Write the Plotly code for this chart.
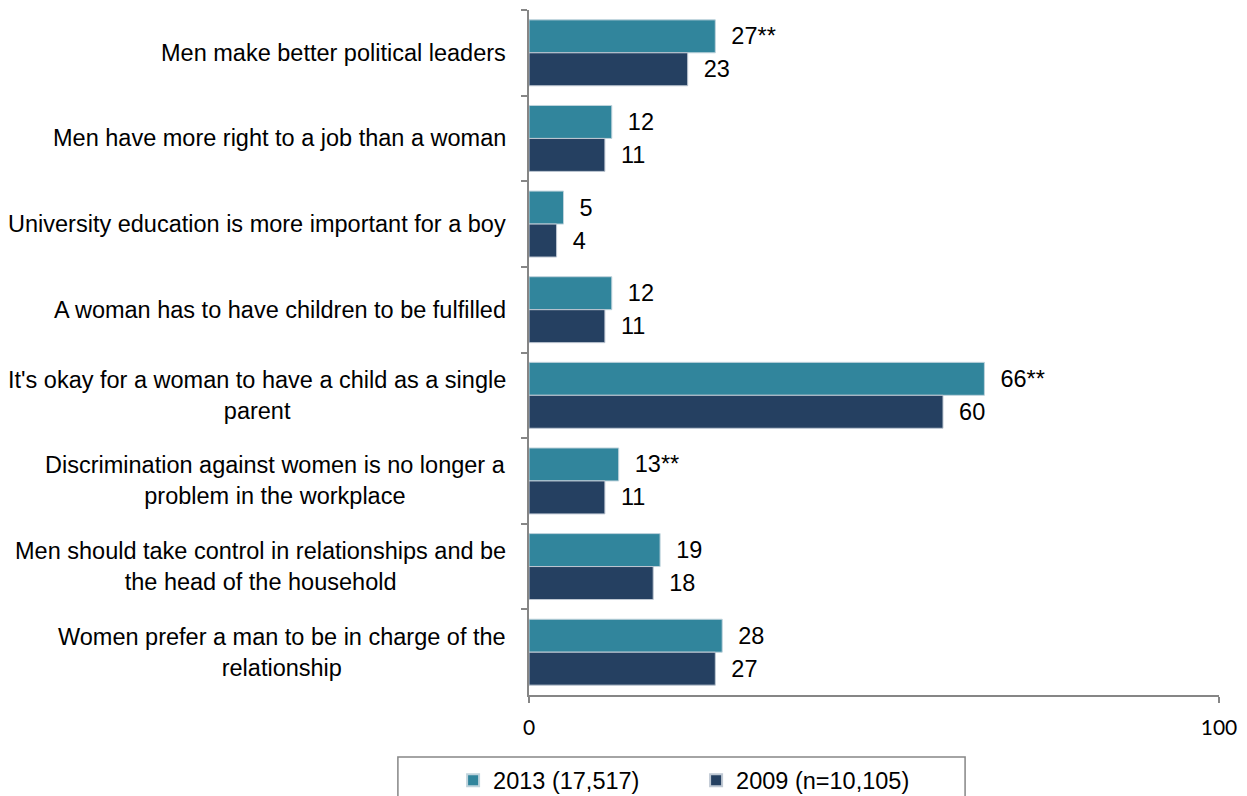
import plotly.graph_objects as go

statements = [
    "Men make better political leaders",
    "Men have more right to a job than a woman",
    "University education is more important for a boy",
    "A woman has to have children to be fulfilled",
    "It's okay for a woman to have a child as a single<br>parent",
    "Discrimination against women is no longer a<br>problem in the workplace",
    "Men should take control in relationships and be<br>the head of the household",
    "Women prefer a man to be in charge of the<br>relationship",
]
keys = [f"s{i}" for i in range(len(statements))]

values_2013 = [27, 12, 5, 12, 66, 13, 19, 28]
labels_2013 = ["27**", "12", "5", "12", "66**", "13**", "19", "28"]
values_2009 = [23, 11, 4, 11, 60, 11, 18, 27]
labels_2009 = ["23", "11", "4", "11", "60", "11", "18", "27"]

teal = "#31859C"
navy = "#254061"
FONT = "Liberation Sans, Arial"
FS = 23.5

fig = go.Figure()
fig.add_trace(go.Bar(
    y=keys, x=values_2013, orientation="h", name="2013 (17,517)",
    marker=dict(color=teal, line=dict(color="#BFD3DC", width=1)),
    text=labels_2013, texttemplate="\u00a0\u00a0%{text}", textposition="outside",
    textfont=dict(family=FONT, size=FS, color="#000000"),
    cliponaxis=False,
))
fig.add_trace(go.Bar(
    y=keys, x=values_2009, orientation="h", name="2009 (n=10,105)",
    marker=dict(color=navy, line=dict(color="#BFC8D3", width=1)),
    text=labels_2009, texttemplate="\u00a0\u00a0%{text}", textposition="outside",
    textfont=dict(family=FONT, size=FS, color="#000000"),
    cliponaxis=False,
))

# category labels with centred multi-line text
for k, s in zip(keys, statements):
    fig.add_annotation(
        x=-0.03, xref="paper", y=k, yref="y", text=s, showarrow=False,
        xanchor="right", align="center",
        font=dict(family=FONT, size=FS, color="#000000"),
    )

# legend frame
fig.add_shape(type="rect", xref="paper", yref="paper",
              x0=-0.19, x1=0.632, y0=-0.0905, y1=-0.3,
              line=dict(color="#868686", width=1.5), fillcolor="rgba(0,0,0,0)")

fig.update_layout(
    width=1247, height=796,
    margin=dict(l=529, r=28, t=10, b=101, autoexpand=False),
    paper_bgcolor="white", plot_bgcolor="white",
    barmode="group", bargap=0.23, bargroupgap=0,
    font=dict(family=FONT, size=FS, color="#000000"),
    uniformtext=dict(mode=False),
    xaxis=dict(
        range=[0, 100], tickvals=[0, 100], showgrid=False, zeroline=False,
        showline=True, linecolor="#868686", linewidth=2,
        ticks="outside", ticklen=6, tickcolor="#868686", tickwidth=2,
        tickfont=dict(family="Lato, Open Sans", size=21, color="#000000"),
        ticklabelstandoff=7,
        fixedrange=True,
    ),
    yaxis=dict(
        autorange="reversed", showticklabels=False, showgrid=False,
        showline=True, linecolor="#868686", linewidth=2,
        ticks="outside", ticklen=6, tickcolor="#868686", tickwidth=2,
        tickson="boundaries",
    ),
    legend=dict(
        orientation="h", x=-0.110, y=-0.0925, xanchor="left", yanchor="top",
        font=dict(family=FONT, size=FS, color="#000000"),
        entrywidth=198, itemsizing="constant", bgcolor="rgba(0,0,0,0)",
    ),
)

fig.write_html("out.html")
